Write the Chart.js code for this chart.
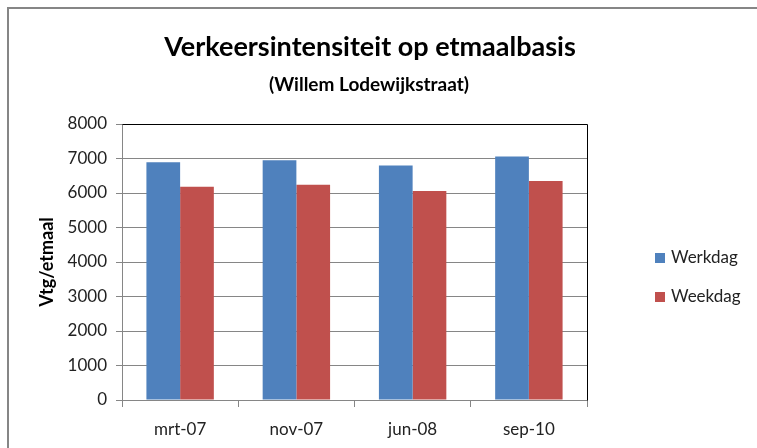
<!DOCTYPE html>
<html>
<head>
<meta charset="utf-8">
<title>Verkeersintensiteit op etmaalbasis</title>
<script src="https://cdn.jsdelivr.net/npm/chart.js@4.4.1/dist/chart.umd.min.js"></script>
<style>
  html, body { margin: 0; padding: 0; background: #fff; }
  #wrap { width: 757px; height: 448px; }
</style>
</head>
<body>
<div id="wrap"><canvas id="chart" width="757" height="448"></canvas></div>
<script>
"use strict";

// Data
var categories = ["mrt-07", "nov-07", "jun-08", "sep-10"];
var werkdag = [6890, 6950, 6800, 7060];
var weekdag = [6180, 6240, 6060, 6350];
var seriesNames = ["Werkdag", "Weekdag"];
var chartTitle = "Verkeersintensiteit op etmaalbasis";
var chartSubtitle = "(Willem Lodewijkstraat)";
var yTitle = "Vtg/etmaal";

var FONT = "Lato, 'Open Sans', sans-serif";

// Frame, titles, plot border and legend
var decor = {
    id: "decor",
    afterDraw: function (chart) {
        var ctx = chart.ctx;
        var area = chart.chartArea;
        ctx.save();

        // outer frame (top + left)
        ctx.strokeStyle = "#868686";
        ctx.lineWidth = 2;
        ctx.beginPath();
        ctx.moveTo(8, 460);
        ctx.lineTo(8, 8);
        ctx.lineTo(760, 8);
        ctx.stroke();

        // plot area top + right border
        ctx.strokeStyle = "#000";
        ctx.lineWidth = 1;
        ctx.beginPath();
        ctx.moveTo(Math.round(area.left) + 0.5, Math.round(area.top) + 0.5);
        ctx.lineTo(Math.round(area.right) + 0.5, Math.round(area.top) + 0.5);
        ctx.lineTo(Math.round(area.right) + 0.5, Math.round(area.bottom) + 0.5);
        ctx.stroke();

        // titles
        ctx.fillStyle = "#000";
        ctx.textAlign = "center";
        ctx.textBaseline = "middle";
        ctx.font = "bold 27px " + FONT;
        ctx.fillText(chartTitle, 370, 47);
        ctx.font = "bold 19px " + FONT;
        ctx.fillText(chartSubtitle, 369, 85);

        // legend
        ctx.textAlign = "left";
        ctx.font = "17px " + FONT;
        var ys = [258, 297];
        chart.data.datasets.forEach(function (ds, i) {
            ctx.fillStyle = ds.backgroundColor;
            ctx.fillRect(655, ys[i] - 5, 10, 10);
            ctx.fillStyle = "#222";
            ctx.fillText(ds.label, 671, ys[i]);
        });
        ctx.restore();
    }
};

var ctx = document.getElementById("chart").getContext("2d");
var myChart = new Chart(ctx, {
    type: "bar",
    data: {
        labels: categories,
        datasets: [{
            label: seriesNames[0],
            data: werkdag,
            backgroundColor: "#4F81BD"
        }, {
            label: seriesNames[1],
            data: weekdag,
            backgroundColor: "#C0504D"
        }]
    },
    options: {
        responsive: false,
        animation: false,
        events: [],
        datasets: {
            bar: { barPercentage: 1.0, categoryPercentage: 0.58 }
        },
        layout: {
            padding: { left: 29, right: 170, top: 124, bottom: 0 }
        },
        plugins: {
            legend: { display: false },
            title: { display: false },
            tooltip: { enabled: false }
        },
        scales: {
            x: {
                afterFit: function (scale) { scale.height = 48; },
                grid: {
                    offset: true,
                    drawOnChartArea: false,
                    drawTicks: true,
                    tickLength: 7,
                    color: "#868686"
                },
                border: { color: "#868686" },
                ticks: {
                    color: "#222",
                    padding: 12,
                    font: { family: FONT, size: 17 }
                }
            },
            y: {
                min: 0,
                max: 8000,
                afterFit: function (scale) { scale.width = 93; },
                ticks: {
                    stepSize: 500,
                    color: "#222",
                    padding: 9,
                    font: { family: FONT, size: 17 },
                    callback: function (v) { return v % 1000 === 0 ? v : ""; }
                },
                grid: {
                    tickLength: 6,
                    color: function (c) {
                        return c.tick && c.tick.value % 1000 === 0 ? "#868686" : "rgba(0,0,0,0)";
                    },
                    tickColor: "#868686"
                },
                border: { color: "#868686" },
                title: {
                    display: true,
                    text: yTitle,
                    color: "#000",
                    padding: { top: 7, bottom: 0 },
                    font: { family: FONT, size: 18, weight: "bold" }
                }
            }
        }
    },
    plugins: [decor]
});
</script>
</body>
</html>
